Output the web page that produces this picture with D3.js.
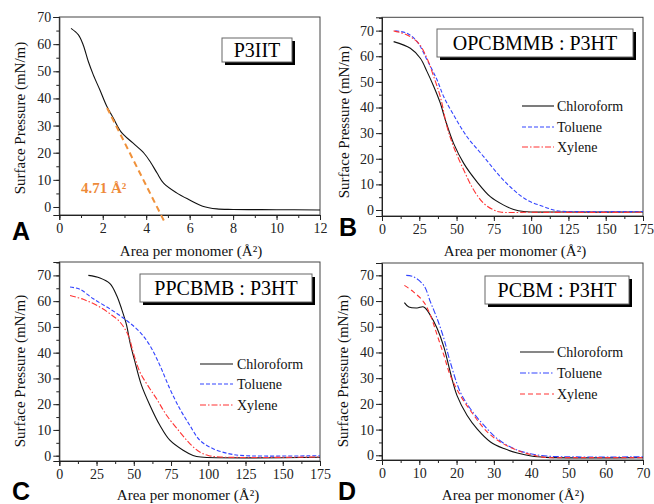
<!DOCTYPE html>
<html><head><meta charset="utf-8">
<script src="https://cdn.jsdelivr.net/npm/d3@7/dist/d3.min.js"></script>
<style>
body{margin:0;background:#fff;}
svg{display:block;}
svg text{font-family:"Liberation Serif","Times New Roman","DejaVu Serif",serif;}
svg text.letter{font-family:"Liberation Sans",Arial,sans-serif;font-weight:bold;}
</style></head>
<body>
<svg id="c" width="654" height="504"></svg>
<script>
// ---------- DATA ----------
const yTicks = [0,10,20,30,40,50,60,70];
const xTicksA = [0,2,4,6,8,10,12];
const xTicksBC = [0,25,50,75,100,125,150,175];
const xTicksD = [0,10,20,30,40,50,60,70];

// Panel A: P3IIT
const p3iit = [[0.54,65.8],[0.88,63.4],[1.1,59.7],[1.34,53.5],[1.57,48.6],[1.87,43.1],[2.18,37.2],[2.49,32.7],[2.85,27.6],[3.4,23.5],[3.9,19.8],[4.2,16.5],[4.5,12.5],[4.8,8.8],[5.4,5.2],[6.0,2.6],[6.6,0.3],[7.25,-0.7],[8,-0.9],[10,-1.0],[12,-1.1]];
const tangentA = [[2.2,36.5],[4.87,-5.9]];
const tangentLabel = "4.71 Å²";

// Panel B: OPCBMMB : P3HT
const bChloroform = [[7.8,65.7],[19,63.1],[25.7,59.2],[30.2,54],[34.7,48.2],[39.1,41.7],[42.5,35.1],[48,26],[54.8,18.2],[63.7,11],[72.6,5.2],[81.6,1.9],[88.3,0.2],[95,-0.6],[120,-0.8],[175,-0.8]];
const bToluene = [[8.9,69.9],[16.8,69],[23.5,65.7],[30.2,58.6],[36.9,50.8],[41.4,44.2],[48,37.1],[57,28.6],[68.2,20.8],[79.3,13],[88.3,7.8],[97.2,3.9],[108.4,1.3],[117.3,-0.3],[130,-0.6],[175,-0.6]];
const bXylene = [[7.8,69.9],[16.8,68.3],[24.6,65],[30.2,59.2],[34.7,52],[39.1,44.2],[43.6,32.5],[48,24.7],[54.8,15.6],[61.5,7.8],[68.2,2.6],[74.9,0],[79.3,-0.8],[100,-0.9],[175,-0.9]];

// Panel C: PPCBMB : P3HT
const cChloroform = [[19.5,70],[27.3,69],[34,66.8],[38.5,62.2],[41.8,57],[45.2,50.6],[47.4,44.1],[50.8,36.4],[55.2,27.3],[60.8,19.6],[67.5,11.8],[74.2,6],[83.1,2.1],[89.8,0.1],[95,-0.5],[175,-0.6]];
const cToluene = [[7.2,65.5],[13.9,64.6],[22.8,60.9],[34,57],[45.2,52.5],[54.1,48],[60.8,42.8],[67.5,35.1],[74.2,26],[80.9,18.2],[87.6,11.8],[94.3,6],[103.3,2.7],[114.4,0.7],[125,0],[175,0]];
const cXylene = [[7.2,62.2],[16.1,60.7],[25.1,58.4],[34,55.1],[40.7,51.9],[46.3,46.7],[49.6,40.2],[54.1,32.5],[60.8,26],[65.3,22.1],[72,15.7],[80.9,9.2],[87.6,4.7],[94.3,1.4],[100,0.1],[108,-0.5],[175,-0.5]];

// Panel D: PCBM : P3HT
const dChloroform = [[6,59.4],[7.2,57.7],[9.4,57.3],[11.2,57.7],[13,54.4],[14.8,49.3],[16.6,42.1],[18.3,32.4],[20.1,23.3],[22.8,15.6],[25.5,10.3],[29.1,5.2],[32.7,2.6],[36.3,0.9],[40,-0.3],[44,-0.8],[70,-0.9]];
const dToluene = [[6.5,70],[8.5,69.4],[11.2,66.1],[13,59.6],[14.8,53.1],[16.6,45.4],[18.3,36.3],[21,24.6],[23.7,18.1],[27.3,11.7],[30.9,6.5],[35.3,2.6],[39.8,0.6],[44.3,-0.3],[50,-0.6],[70,-0.6]];
const dXylene = [[6,66.1],[8.5,63.5],[11.2,59.6],[13,54.4],[14.8,46.7],[16.6,38.9],[18.3,31.1],[21,23.3],[24.6,15.6],[28.2,9.1],[31.7,5.2],[36.3,1.9],[40.8,0],[43.5,-0.8],[50,-0.9],[70,-0.9]];

const seriesNames = ["Chloroform","Toluene","Xylene"];
const titles = ["P3IIT","OPCBMMB : P3HT","PPCBMB : P3HT","PCBM : P3HT"];
const letters = ["A","B","C","D"];
const xTitle = "Area per monomer (Å²)";
const yTitle = "Surface Pressure (mN/m)";

// ---------- DRAW ----------
const svg = d3.select("#c");
const BLACK = "#111", BLUE = "#3344ff", RED = "#ff3333";

const panels = [
  {l:59.3,r:320,t:17,b:215,xd:[0,12],yd:[-2.95,70],xt:xTicksA,xm:1,
   box:[222,38,70,24], letter:[12,240], xtitle:[191,256], ytitle:[20,118], series:[{d:p3iit,c:BLACK,dash:null}], legend:null},
  {l:382,r:643,t:17.3,b:216,xd:[0,175],yd:[-2.34,75.2],xt:xTicksBC,xm:12.5,
   box:[437,29,196,28], letter:[339,236], xtitle:[515,256], ytitle:[344,122],
   series:[{d:bChloroform,c:BLACK,dash:null},{d:bToluene,c:BLUE,dash:"4,2"},{d:bXylene,c:RED,dash:"6,2,1.5,2"}],
   legend:{x1:522,x2:554,tx:557,ys:[106,127,147]}},
  {l:59.3,r:320,t:262,b:461,xd:[0,175],yd:[-2.06,75.2],xt:xTicksBC,xm:12.5,
   box:[140,274,172,28], letter:[12,500], xtitle:[188,500], ytitle:[20,371],
   series:[{d:cChloroform,c:BLACK,dash:null},{d:cToluene,c:BLUE,dash:"4,2"},{d:cXylene,c:RED,dash:"6,2,1.5,2"}],
   legend:{x1:200,x2:233,tx:237,ys:[364,384,405]}},
  {l:382,r:643,t:263,b:460,xd:[0,70],yd:[-1.83,74.8],xt:xTicksD,xm:5,
   box:[485,276,144,28], letter:[338,500], xtitle:[513,500], ytitle:[343,371],
   series:[{d:dChloroform,c:BLACK,dash:null},{d:dToluene,c:BLUE,dash:"6,2,1.5,2"},{d:dXylene,c:RED,dash:"5,3"}],
   legend:{x1:520,x2:554,tx:557,ys:[352,373,394]}}
];

panels.forEach((p,i)=>{
  const g = svg.append("g");
  const x = d3.scaleLinear().domain(p.xd).range([p.l,p.r]);
  const y = d3.scaleLinear().domain(p.yd).range([p.b,p.t]);

  g.append("rect").attr("x",p.l).attr("y",p.t).attr("width",p.r-p.l).attr("height",p.b-p.t)
    .attr("fill","none").attr("stroke","#444").attr("stroke-width",1);

  const xMinor = d3.range(p.xd[0], p.xd[1]+1e-9, p.xm);
  const xa = g.append("g").attr("transform",`translate(0,${p.b})`)
    .call(d3.axisBottom(x).tickValues(xMinor).tickSize(3).tickFormat(""));
  xa.select(".domain").remove();
  xa.selectAll("line").attr("stroke","#222");
  const xA = g.append("g").attr("transform",`translate(0,${p.b})`)
    .call(d3.axisBottom(x).tickValues(p.xt).tickSize(5).tickPadding(3).tickFormat(d3.format("d")));
  xA.attr("font-family",null);
  xA.select(".domain").attr("stroke","#222");
  xA.selectAll("line").attr("stroke","#222");
  xA.selectAll("text").attr("font-size",14).attr("fill","#222");

  const yMinor = d3.range(0, 75.01, 5).filter(v=>v<=p.yd[1]);
  const ya = g.append("g").attr("transform",`translate(${p.l},0)`)
    .call(d3.axisLeft(y).tickValues(yMinor).tickSize(3).tickFormat(""));
  ya.select(".domain").remove();
  ya.selectAll("line").attr("stroke","#222");
  const yA = g.append("g").attr("transform",`translate(${p.l},0)`)
    .call(d3.axisLeft(y).tickValues(yTicks).tickSize(6).tickPadding(2).tickFormat(d3.format("d")));
  yA.attr("font-family",null);
  yA.select(".domain").attr("stroke","#222");
  yA.selectAll("line").attr("stroke","#222");
  yA.selectAll("text").attr("font-size",14).attr("fill","#222");

  g.append("text").attr("x",p.xtitle[0]).attr("y",p.xtitle[1]).attr("text-anchor","middle")
    .attr("font-size",15).attr("fill","#111").text(xTitle);
  g.append("text").attr("transform",`translate(${p.ytitle[0]},${p.ytitle[1]}) rotate(-90)`)
    .attr("text-anchor","middle").attr("dy","0.35em")
    .attr("font-size",15).attr("fill","#111").text(yTitle);

  g.append("text").attr("class","letter").attr("x",p.letter[0]).attr("y",p.letter[1])
    .attr("font-size",25).attr("fill","#000").text(letters[i]);

  const line = d3.line().x(d=>x(d[0])).y(d=>y(d[1])).curve(d3.curveCatmullRom.alpha(0.5));
  p.series.forEach(s=>{
    g.append("path").attr("d",line(s.d)).attr("fill","none").attr("stroke",s.c)
      .attr("stroke-width",1.1).attr("stroke-dasharray",s.dash);
  });

  if(i===0){
    g.append("line").attr("x1",x(tangentA[0][0])).attr("y1",y(tangentA[0][1]))
      .attr("x2",x(tangentA[1][0])).attr("y2",y(tangentA[1][1]))
      .attr("stroke","#f0913a").attr("stroke-width",2).attr("stroke-dasharray","6,4");
    g.append("text").attr("x",x(1)).attr("y",y(5))
      .attr("font-weight","bold").attr("font-size",15).attr("fill","#ee8a3a").text(tangentLabel);
  }

  const [bx,by,bw,bh] = p.box;
  g.append("rect").attr("x",bx+3).attr("y",by+3).attr("width",bw).attr("height",bh).attr("fill","#000");
  g.append("rect").attr("x",bx).attr("y",by).attr("width",bw).attr("height",bh)
    .attr("fill","#fff").attr("stroke","#666").attr("stroke-width",1);
  g.append("text").attr("x",bx+bw/2).attr("y",by+bh/2).attr("dy","0.35em").attr("text-anchor","middle")
    .attr("font-size",20).attr("fill","#000").text(titles[i]);

  if(p.legend){
    p.series.forEach((s,k)=>{
      const yy = p.legend.ys[k];
      g.append("line").attr("x1",p.legend.x1).attr("x2",p.legend.x2).attr("y1",yy).attr("y2",yy)
        .attr("stroke",s.c).attr("stroke-width",1.1).attr("stroke-dasharray",s.dash);
      g.append("text").attr("x",p.legend.tx).attr("y",yy).attr("dy","0.35em")
        .attr("font-size",14).attr("fill","#111").text(seriesNames[k]);
    });
  }
});
</script>
</body></html>
